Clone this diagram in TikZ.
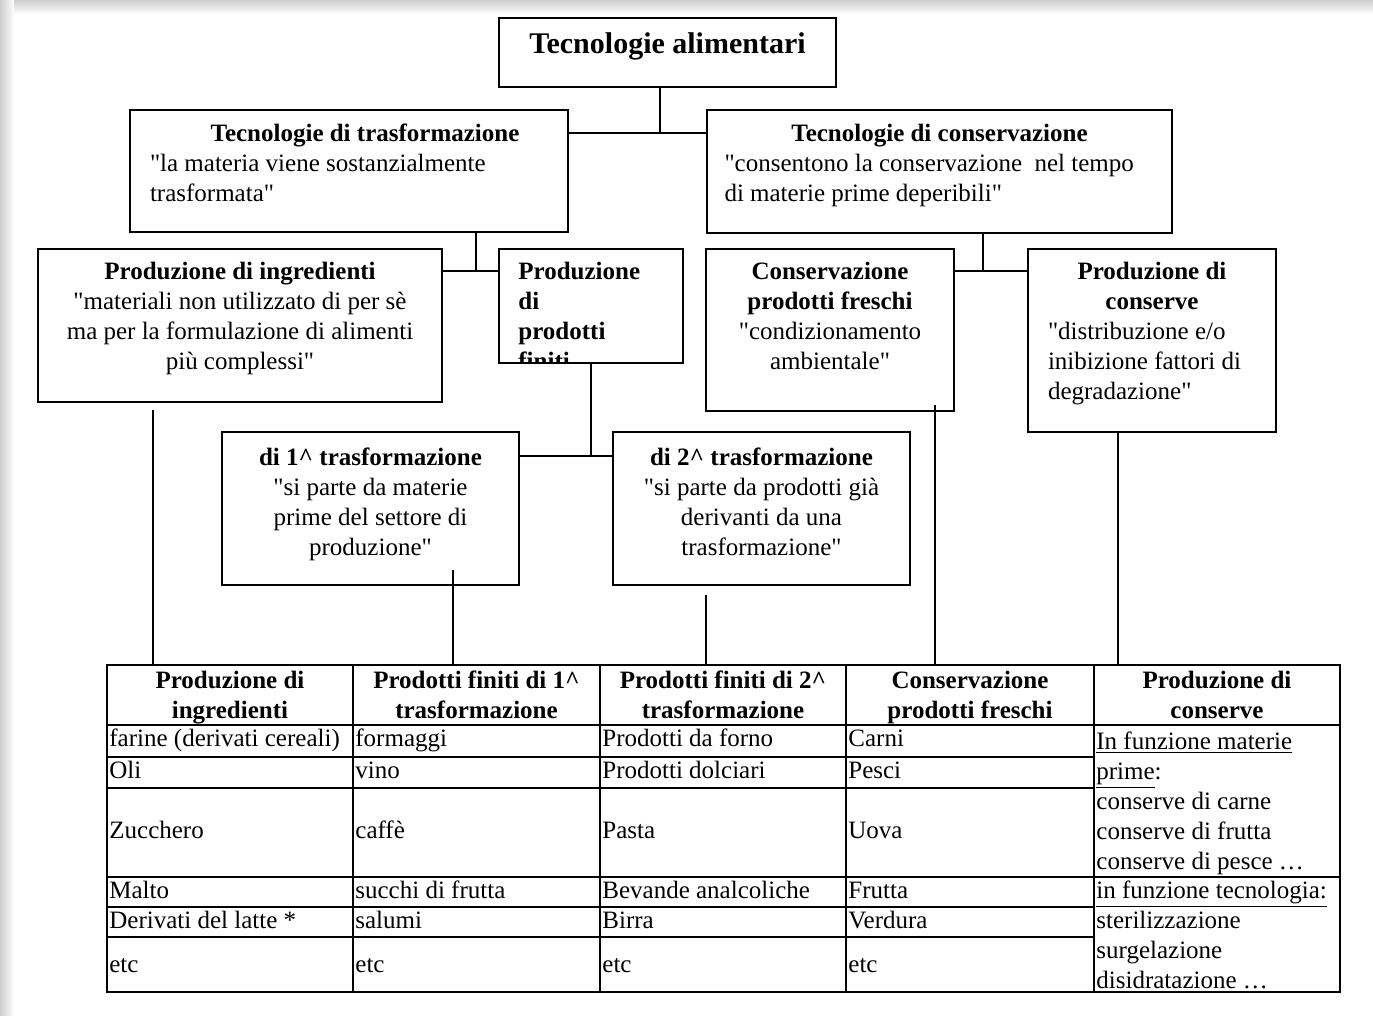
\documentclass[tikz,border=0pt]{standalone}
\usepackage{fontspec}
\setmainfont{Liberation Serif}
\usetikzlibrary{positioning}

\newcommand{\qq}{\textquotedbl{}}

\tikzset{
  box/.style={draw, line width=1pt, anchor=north west, inner sep=0pt, outer sep=0pt},
  txt/.style={inner sep=0pt, font=\fontsize{12.5}{15}\selectfont},
  link/.style={line width=0.9pt},
  grid/.style={line width=1pt},
  head/.style={txt, font=\fontsize{12.5}{15}\selectfont\bfseries, align=center,
    execute at begin node=\strut, execute at end node=\strut},
  cell/.style={txt, anchor=west, text height=9pt, text depth=3pt},
}

\begin{document}
\begin{tikzpicture}[x=0.5pt, y=-0.5pt]
\useasboundingbox (0,0) rectangle (1373,1016);
% page shadow
\shade[top color=gray!40, bottom color=white] (0,0) rectangle (1373,14);
\shade[left color=gray!40, right color=white] (0,0) rectangle (14,1016);

% Root
\node[box, minimum width=168.5pt, minimum height=34.5pt] (root) at (499,18) {};
\node[txt, font=\fontsize{15}{18}\selectfont\bfseries, below=7pt of root.north] (rootl) {Tecnologie alimentari};

% First level
\node[box, minimum width=219pt, minimum height=61pt] (trasf) at (130,110) {};
\node[txt, text width=215pt, align=flush left, below=7pt of trasf.north, xshift=8pt] (trasfl)
  {\makebox[\linewidth]{\bfseries Tecnologie di trasformazione}\\\qq la materia viene sostanzialmente\\trasformata\qq};
\node[box, minimum width=232.5pt, minimum height=61.5pt] (cons) at (707,110) {};
\node[txt, text width=215pt, align=flush left, below=7pt of cons.north] (consl)
  {\makebox[\linewidth]{\bfseries Tecnologie di conservazione}\\\qq consentono la conservazione~ nel tempo\\di materie prime deperibili\qq};

% Second level
\node[box, minimum width=202pt, minimum height=76.5pt] (ingr) at (38,249) {};
\node[txt, align=center, below=6.5pt of ingr.north] (ingrl)
  {\textbf{Produzione di ingredienti}\\\qq materiali non utilizzato di per sè\\ma per la formulazione di alimenti\\più complessi\qq};
\node[box, minimum width=92pt, minimum height=57pt] (prod) at (499,249) {};
\begin{scope}
  \clip (prod.north west) rectangle (prod.south east);
  \node[txt, font=\fontsize{12.5}{15}\selectfont\bfseries, align=flush left, below right=6.5pt and 9.5pt of prod.north west] (prodl)
    {Produzione\\di\\prodotti\\finiti};
\end{scope}
\node[box, minimum width=124pt, minimum height=81pt] (fresc) at (706,249) {};
\node[txt, align=center, below=6.5pt of fresc.north] (frescl)
  {\textbf{Conservazione}\\\textbf{prodotti freschi}\\\qq condizionamento\\ambientale\qq};
\node[box, minimum width=124pt, minimum height=91.5pt] (conse) at (1028,249) {};
\node[txt, text width=104pt, align=flush left, below=6.5pt of conse.north] (consel)
  {\makebox[\linewidth]{\bfseries Produzione di}\\\makebox[\linewidth]{\bfseries conserve}\\\qq distribuzione e/o\\inibizione fattori di\\degradazione\qq};

% Third level
\node[box, minimum width=148.5pt, minimum height=76.5pt] (tr1) at (222,432) {};
\node[txt, align=center, below=7.5pt of tr1.north] (tr1l)
  {\textbf{di 1\textasciicircum{} trasformazione}\\\qq si parte da materie\\prime del settore di\\produzione\qq};
\node[box, minimum width=148.5pt, minimum height=76.5pt] (tr2) at (613,432) {};
\node[txt, align=center, below=7.5pt of tr2.north] (tr2l)
  {\textbf{di 2\textasciicircum{} trasformazione}\\\qq si parte da prodotti già\\derivanti da una\\trasformazione\qq};

% Junctions
\coordinate (j1) at (660,133);
\coordinate (j2) at (476,271);
\coordinate (j3) at (983,271);
\coordinate (j4) at (591,456);
\draw[link] (root.south -| j1) -- (j1);
\draw[link] (trasf.east |- j1) -- (cons.west |- j1);
\draw[link] (trasf.south -| j2) -- (j2);
\draw[link] (ingr.east |- j2) -- (prod.west |- j2);
\draw[link] (cons.south -| j3) -- (j3);
\draw[link] (fresc.east |- j3) -- (conse.west |- j3);
\draw[link] (prod.south -| j4) -- (j4);
\draw[link] (tr1.east |- j4) -- (tr2.west |- j4);

% Drops to the table
\coordinate (t1) at (153,665);
\coordinate (t2) at (453,665);
\coordinate (t3) at (706,665);
\coordinate (t4) at (935,665);
\coordinate (t5) at (1118,665);
\draw[link] (ingr.south -| t1) ++(0,8) -- (t1);
\draw[link] (tr1.south -| t2) ++(0,-15) -- (t2);
\draw[link] (tr2.south -| t3) ++(0,10) -- (t3);
\draw[link] (fresc.south -| t4) ++(0,-6) -- (t4);
\draw[link] (conse.south -| t5) -- (t5);

% Table
\draw[grid] (107,665) rectangle (1340,992);
\foreach \x in {353,600,846,1094} \draw[grid] (\x,665) -- (\x,992);
\foreach \y in {725,877} \draw[grid] (107,\y) -- (1340,\y);
\foreach \y in {757,788,907,937} \draw[grid] (107,\y) -- (1094,\y);

\foreach \x/\t [count=\i] in {230/{Produzione di\\ingredienti},
    476.5/{Prodotti finiti di 1\textasciicircum{}\\trasformazione},
    723/{Prodotti finiti di 2\textasciicircum{}\\trasformazione},
    970/{Conservazione\\prodotti freschi},
    1217/{Produzione di\\conserve}}
  \node[head] (h\i) at (\x,699) {\t};

\foreach \y/\a/\b/\c/\d [count=\i] in {
    741/{farine (derivati cereali)}/{formaggi}/{Prodotti da forno}/{Carni},
    772/{Oli}/{vino}/{Prodotti dolciari}/{Pesci},
    832/{Zucchero}/{caffè}/{Pasta}/{Uova},
    892/{Malto}/{succhi di frutta}/{Bevande analcoliche}/{Frutta},
    922/{Derivati del latte *}/{salumi}/{Birra}/{Verdura},
    966/{etc}/{etc}/{etc}/{etc}}
{
  \node[cell] (a\i) at (109,\y) {\a};
  \node[cell] (b\i) at (355,\y) {\b};
  \node[cell] (c\i) at (602,\y) {\c};
  \node[cell] (d\i) at (848,\y) {\d};
}
\node[txt, align=flush left, anchor=north west] (e1) at (1096,731)
  {\underline{In funzione materie}\\\underline{prime}:\\conserve di carne\\conserve di frutta\\conserve di pesce~\ldots};
\node[txt, align=flush left, anchor=north west] (e2) at (1096,880)
  {\underline{in funzione tecnologia:}\\sterilizzazione\\surgelazione\\disidratazione \ldots};
\end{tikzpicture}
\end{document}
